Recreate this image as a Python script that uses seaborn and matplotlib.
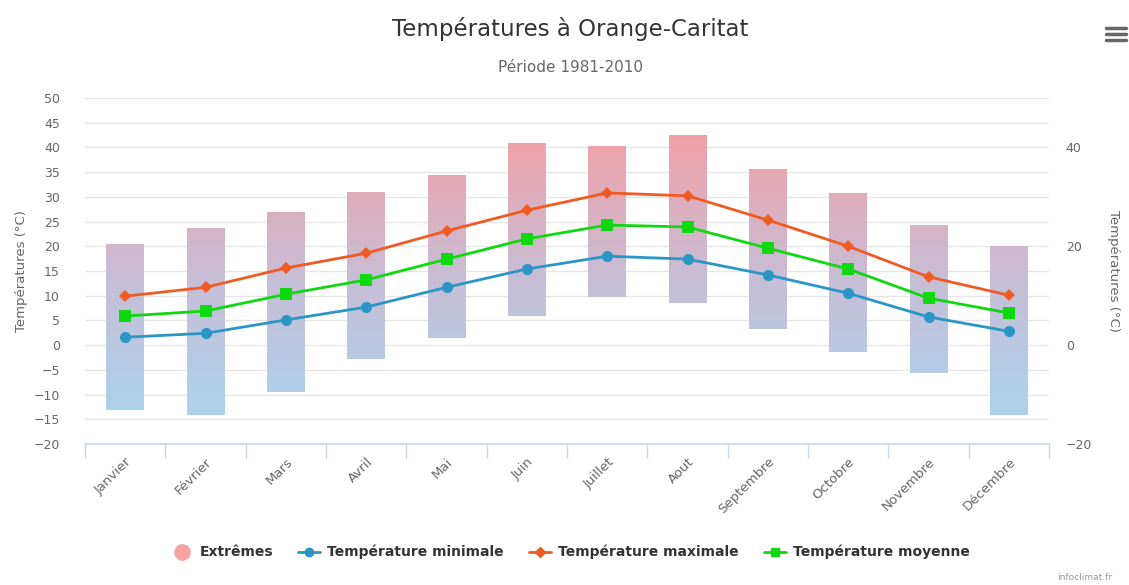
import numpy as np
import pandas as pd
import seaborn as sns
import matplotlib.pyplot as plt
from matplotlib.colors import LinearSegmentedColormap
from matplotlib.lines import Line2D

# données
mois = ["Janvier", "Février", "Mars", "Avril", "Mai", "Juin", "Juillet", "Aout",
        "Septembre", "Octobre", "Novembre", "Décembre"]
extreme_bas = [-13.2, -14.2, -9.5, -2.8, 1.4, 5.9, 9.7, 8.5, 3.2, -1.4, -5.7, -14.2]
extreme_haut = [20.4, 23.7, 26.9, 31.0, 34.4, 40.9, 40.3, 42.5, 35.6, 30.8, 24.3, 20.0]
t_min = [1.6, 2.4, 5.1, 7.7, 11.7, 15.4, 18.0, 17.4, 14.2, 10.5, 5.7, 2.8]
t_max = [9.9, 11.7, 15.6, 18.6, 23.1, 27.3, 30.8, 30.2, 25.3, 20.0, 13.8, 10.1]
t_moy = [5.9, 6.9, 10.3, 13.2, 17.4, 21.5, 24.3, 23.9, 19.6, 15.4, 9.5, 6.5]

df = pd.DataFrame({"x": np.arange(len(mois)), "min": t_min, "max": t_max, "moy": t_moy})

sns.set_theme(style="white")
plt.rcParams["font.family"] = ["DejaVu Sans"]

fig = plt.figure(figsize=(11.29, 5.85), dpi=100)
ax = fig.add_axes([0.0753, 0.241, 0.854, 0.5915])

# barres des extrêmes avec dégradé
cmap = LinearSegmentedColormap.from_list("ext", ["#acd3ec", "#c8bdd5", "#f2a0a6"])
bars = ax.bar(df["x"], np.array(extreme_haut) - np.array(extreme_bas), bottom=extreme_bas,
              width=0.47, color="none", edgecolor="none", zorder=1)
grad = np.linspace(0, 1, 256).reshape(-1, 1)
for b in bars:
    im = ax.imshow(grad, extent=(-0.5, 11.5, -15, 43), origin="lower", cmap=cmap,
                   aspect="auto", zorder=1, interpolation="bilinear")
    im.set_clip_path(b)

c_min, c_max, c_moy = "#2b95c5", "#f05a23", "#10d810"
sns.lineplot(data=df, x="x", y="min", ax=ax, color=c_min, marker="o", markersize=8,
             markeredgewidth=0, linewidth=2, zorder=3)
sns.lineplot(data=df, x="x", y="max", ax=ax, color=c_max, marker="D", markersize=6,
             markeredgewidth=0, linewidth=2, zorder=4)
sns.lineplot(data=df, x="x", y="moy", ax=ax, color=c_moy, marker="s", markersize=8,
             markeredgewidth=0, linewidth=2, zorder=3)

ax.set_xlim(-0.5, 11.5)
ax.set_ylim(-20, 50)
ax.set_yticks(np.arange(-20, 51, 5))
ax.grid(axis="y", color="#e6e6e6", linewidth=1)
ax.set_axisbelow(True)
for s in ["left", "right", "top"]:
    ax.spines[s].set_visible(False)
ax.spines["bottom"].set_color("#ccd6eb")
ax.set_xticks(df["x"])
ax.set_xticklabels(mois, rotation=45, ha="right", rotation_mode="anchor",
                   fontsize=9.5, color="#666666")
ax.set_xticks(np.arange(-0.5, 12, 1), minor=True)
ax.tick_params(axis="x", which="major", length=0, pad=8)
ax.tick_params(axis="x", which="minor", bottom=True, length=10, color="#ccd6eb", width=1)
ax.tick_params(axis="y", length=0, labelsize=9, labelcolor="#666666", pad=18)
ax.set_xlabel("")
ax.set_ylabel("Températures (°C)", fontsize=9.5, color="#666666", labelpad=4)

ax2 = ax.twinx()
ax2.set_ylim(-20, 50)
ax2.set_yticks([-20, 0, 20, 40])
for s in ax2.spines.values():
    s.set_visible(False)
ax2.tick_params(axis="y", length=0, labelsize=9, labelcolor="#666666", pad=12)
ax2.set_ylabel("Températures (°C)", fontsize=9.5, color="#666666", rotation=270, labelpad=20)

fig.text(0.505, 0.95, "Températures à Orange-Caritat", ha="center", va="center",
         fontsize=16.5, color="#333333")
fig.text(0.505, 0.884, "Période 1981-2010", ha="center", va="center",
         fontsize=11, color="#666666")
fig.text(0.985, 0.012, "infoclimat.fr", ha="right", va="center", fontsize=6.5, color="#999999")

# icône menu
for yy in [0.952, 0.942, 0.932]:
    fig.add_artist(Line2D([0.98, 0.997], [yy, yy], color="#666666", linewidth=2.5,
                          solid_capstyle="round"))

handles = [
    Line2D([], [], linestyle="none", marker="o", markersize=11, color="#f6a3a3"),
    Line2D([], [], color=c_min, marker="o", markersize=6, linewidth=2),
    Line2D([], [], color=c_max, marker="D", markersize=5, linewidth=2),
    Line2D([], [], color=c_moy, marker="s", markersize=6, linewidth=2),
]
labels = ["Extrêmes", "Température minimale", "Température maximale", "Température moyenne"]
fig.legend(handles, labels, loc="center", bbox_to_anchor=(0.505, 0.056), ncol=4,
           frameon=False, prop={"weight": "bold", "size": 10}, handlelength=1.6,
           handletextpad=0.5, columnspacing=1.8, labelcolor="#333333")

fig.savefig("out.png", dpi=100)
